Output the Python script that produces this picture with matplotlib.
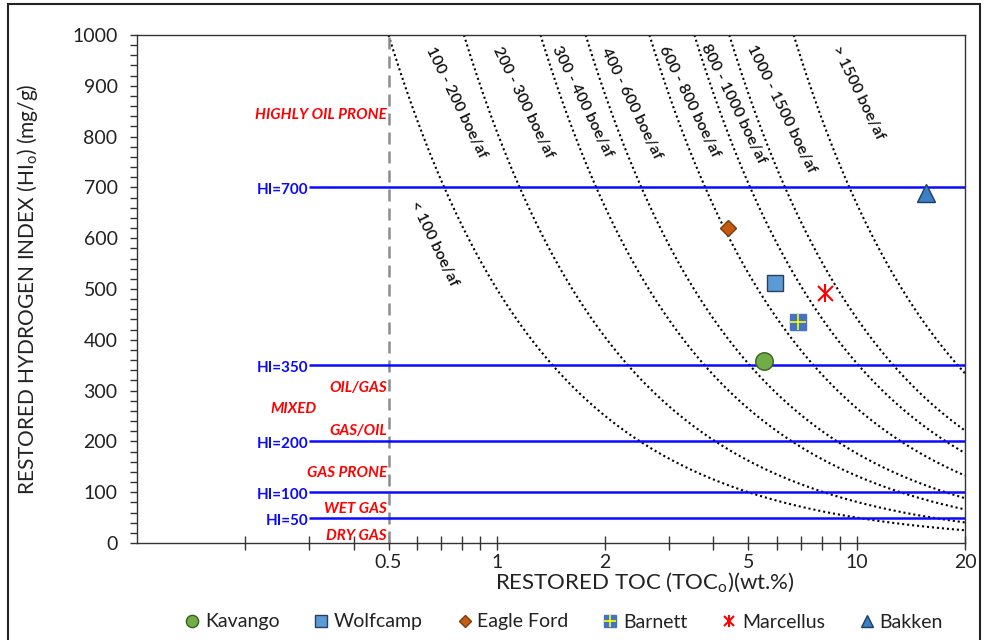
import numpy as np
import matplotlib
matplotlib.use("Agg")
import matplotlib.pyplot as plt
from matplotlib.patches import Rectangle

plt.rcParams['font.family'] = ['Lato', 'DejaVu Sans']

# ---------------- data ----------------
sources = ["Kavango", "Wolfcamp", "Eagle Ford", "Barnett", "Marcellus", "Bakken"]
toc_values = [5.53, 5.94, 4.39, 6.89, 8.14, 15.6]
hi_values = [358, 512, 620, 435, 492, 689]

# iso-yield curves: HI * TOC product for each boundary
iso_products = [500, 810, 1322, 1765, 2655, 3540, 4425, 6680]

curve_labels = ["< 100 boe/af", "100 - 200 boe/af", "200 - 300 boe/af", "300 - 400 boe/af",
                "400 - 600 boe/af", "600 - 800 boe/af", "800 - 1000 boe/af",
                "1000 - 1500 boe/af", "> 1500 boe/af"]
curve_label_toc = [0.667, 0.773, 1.182, 1.728, 2.368, 3.418, 4.534, 6.173, 10.06]
curve_label_hi = [589, 868, 868, 870, 866, 868, 864, 854, 886]

hi_lines = [700, 350, 200, 100, 50]
hi_line_labels = ["HI=700", "HI=350", "HI=200", "HI=100", "HI=50"]

zone_labels = ["HIGHLY OIL PRONE", "OIL/GAS", "GAS/OIL", "GAS PRONE", "WET GAS", "DRY GAS"]
zone_label_hi = [842, 305, 220, 138, 67, 14]
mixed_label = "MIXED"
mixed_pos = (0.272, 264)

x_major = [0.5, 1, 2, 5, 10, 20]
x_major_labels = ["0.5", "1", "2", "5", "10", "20"]
x_minor = [0.2, 0.3, 0.4, 0.6, 0.7, 0.8, 0.9, 3, 4, 6, 7, 8, 9]

# ---------------- figure ----------------
W, H = 984, 640
fig = plt.figure(figsize=(W / 100, H / 100), dpi=100)
ax = fig.add_axes([137 / W, 1 - 543 / H, (965 - 137) / W, (543 - 35) / H])

ax.set_xscale('log')
ax.set_xlim(0.1, 20)
ax.set_ylim(0, 1000)

# iso-curves
for c in iso_products:
    t = np.geomspace(c / 1000.0, 20, 300)
    ax.plot(t, c / t, color='black', lw=1.5, linestyle=(0, (1, 1.4)), zorder=2)

for lab, tx, hy in zip(curve_labels, curve_label_toc, curve_label_hi):
    ax.text(tx, hy, lab, rotation=-64, ha='center', va='center', fontsize=11.5,
            fontweight='semibold', color='#111111', rotation_mode='anchor', zorder=3)

# vertical dashed line at 0.5
ax.axvline(0.5, color='#8c8c8c', lw=1.8, dashes=(4.8, 2.8), zorder=2)

# HI lines
for v, lab in zip(hi_lines, hi_line_labels):
    ax.plot([0.3, 20], [v, v], color='#0a0aff', lw=1.8, zorder=3, solid_capstyle='butt')
    ax.text(0.3, v - 6, lab, ha='right', va='center', color='#0a0aff',
            fontsize=11, fontweight='bold', zorder=4)

# zone labels
for lab, hy in zip(zone_labels, zone_label_hi):
    ax.text(0.495, hy, lab, ha='right', va='center', color='#ff0000',
            fontsize=11, fontweight='bold', fontstyle='italic', zorder=4)
ax.text(mixed_pos[0], mixed_pos[1], mixed_label, ha='center', va='center', color='#ff0000',
        fontsize=11, fontweight='bold', fontstyle='italic', zorder=4)

# data points
ms = 12
styles = {
    "Kavango": dict(marker='o', mfc='#70AD47', mec='#3b5e26', ms=ms * 1.05, mew=1.0),
    "Wolfcamp": dict(marker='s', mfc='#5B9BD5', mec='#2b3f5c', ms=ms * 1.0, mew=1.0),
    "Eagle Ford": dict(marker='D', mfc='#C55A11', mec='#7a3a0c', ms=ms * 0.72, mew=1.0),
    "Bakken": dict(marker='^', mfc='#3B7FC4', mec='#1f3d63', ms=ms * 1.05, mew=1.0),
}
handles = []
for name, t, h in zip(sources, toc_values, hi_values):
    if name in styles:
        st = styles[name]
        ln, = ax.plot([t], [h], linestyle='none', zorder=5, **st)
        handles.append(ln)
    elif name == "Barnett":
        a, = ax.plot([t], [h], linestyle='none', marker='s', mfc='#4472C4', mec='#4472C4',
                     ms=ms * 0.95, zorder=5)
        b, = ax.plot([t], [h], linestyle='none', marker='+', color='#ffff00', ms=ms * 0.95,
                     mew=1.2, zorder=6)
        handles.append((a, b))
    elif name == "Marcellus":
        a, = ax.plot([t], [h], linestyle='none', marker='x', color='#ff0000', ms=ms * 0.9,
                     mew=1.5, zorder=5)
        b, = ax.plot([t], [h], linestyle='none', marker='|', color='#ff0000', ms=ms * 1.1,
                     mew=1.5, zorder=5)
        handles.append((a, b))

# axes styling
ax.set_xticks(x_major)
ax.set_xticklabels(x_major_labels)
ax.set_xticks(x_minor, minor=True)
ax.xaxis.set_minor_formatter(matplotlib.ticker.NullFormatter())
ax.set_yticks(np.arange(0, 1001, 100))
ax.set_yticks(np.arange(0, 1001, 20), minor=True)

ax.tick_params(axis='x', which='both', direction='inout', length=10, width=1.0,
               colors='#333333', labelsize=14, pad=3, labelcolor='#222222')
ax.tick_params(axis='y', which='both', direction='out', length=5, width=1.0,
               colors='#333333', labelsize=14, pad=9, labelcolor='#222222')
for s in ax.spines.values():
    s.set_color('#333333')
    s.set_linewidth(1.0)

ax.set_ylabel("RESTORED HYDROGEN INDEX (HI$_\\mathregular{o}$) (mg/g)", fontsize=15,
              color='#222222')
ax.yaxis.set_label_coords((40 - 137) / (965 - 137), 0.5)
fig.text(645 / W, 1 - 583 / H, "RESTORED TOC (TOC$_\\mathregular{o}$)(wt.%)", fontsize=16,
         ha='center', va='center', color='#222222')

leg = fig.legend(handles, sources, loc='center', bbox_to_anchor=(564 / W, 1 - 622 / H),
                 ncol=6, frameon=False, fontsize=14, handlelength=0.7, handletextpad=0.3,
                 columnspacing=1.8, borderpad=0.1, labelcolor='#222222', markerscale=0.7)

# outer border
fig.patches.append(Rectangle((8 / W, -0.01), (980 - 8) / W, 1 - 4 / H + 0.01,
                             transform=fig.transFigure, fill=False, edgecolor='#222222',
                             lw=1.5))

fig.savefig("out.png", dpi=100)
